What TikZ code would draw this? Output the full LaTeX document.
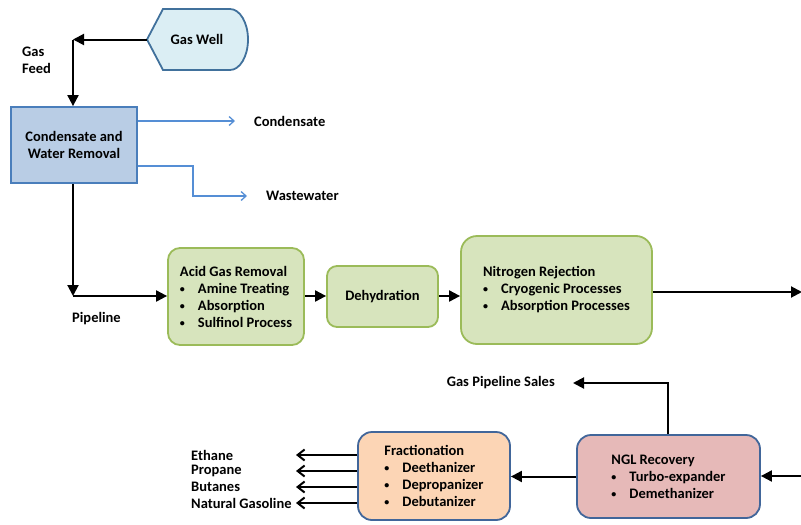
\documentclass[tikz,border=0pt]{standalone}
\usepackage{fontspec}
\setmainfont{Carlito}
\usetikzlibrary{arrows.meta}
\definecolor{wellfill}{HTML}{DBEEF4}
\definecolor{wellline}{HTML}{41719C}
\definecolor{condfill}{HTML}{B9CDE5}
\definecolor{condline}{HTML}{4A7EBB}
\definecolor{greenfill}{HTML}{D7E4BD}
\definecolor{greenline}{HTML}{9BBB59}
\definecolor{pinkfill}{HTML}{E6B9B8}
\definecolor{orangefill}{HTML}{FCD5B5}
\definecolor{darkline}{HTML}{41669A}
\definecolor{bluearrow}{HTML}{558ED5}
\newcommand\bul[1]{\makebox[18pt][l]{\hspace{0pt}\raisebox{1pt}{\fontsize{10}{10}\selectfont\textbullet}}#1}
\tikzset{
  txt/.style={font=\bfseries\fontsize{14.5}{17}\selectfont, inner sep=0pt},
  box/.style={txt, align=left, rounded corners=12pt, line width=1.8pt},
  greenbox/.style={box, draw=greenline, fill=greenfill},
  blk/.style={line width=2pt, -{Triangle[length=11pt,width=11pt]}},
  bluearr/.style={line width=1.3pt, draw=bluearrow, -{Straight Barb[length=5pt,width=9pt]}},
  outarr/.style={line width=2pt, -{Straight Barb[length=7pt,width=11pt]}},
}
\begin{document}
\begin{tikzpicture}[x=1pt,y=-1pt]
\useasboundingbox (0,0) rectangle (801,525);
% Gas well
\draw[line width=1.8pt, draw=wellline, fill=wellfill]
  (163,9) -- (230,9) arc[start angle=-90, end angle=90, x radius=18, y radius=30.5]
  -- (163,70) -- (147,39.5) -- cycle;
\node[txt] (well) at (197,39) {Gas Well};
\coordinate (wellL) at (147,39.5);
% Condensate box
\node[txt, align=center, draw=condline, fill=condfill, line width=1.8pt,
      minimum width=126pt, minimum height=76pt] (cond) at (74,145)
      {Condensate and\\Water Removal};
\coordinate (cA) at (73,39.5);
\coordinate (cB) at (73,296);
\node[txt, align=left, anchor=west] (gasfeed) at (22,60) {Gas\\Feed};
\node[txt, anchor=west] (pipe) at (72,319) {Pipeline};
\node[txt, anchor=west] (lcond) at (254,121) {Condensate};
\node[txt, anchor=west] (lwaste) at (266,196) {Wastewater};
% Green boxes
\node[greenbox, minimum width=136pt, minimum height=97pt] (acid) at (236,296.5)
  {Acid Gas Removal\\\bul{Amine Treating}\\\bul{Absorption}\\\bul{Sulfinol Process}};
\node[greenbox, minimum width=111pt, minimum height=61pt, rounded corners=10pt] (dehyd) at (382.5,296.5)
  {Dehydration};
\node[greenbox, minimum width=191pt, minimum height=108pt, rounded corners=16pt] (nitro) at (556.5,290)
  {Nitrogen Rejection\\\bul{Cryogenic Processes}\\\bul{Absorption Processes}};
\coordinate (outR) at (801,292);
% NGL and Fractionation
\node[box, draw=darkline, fill=pinkfill, minimum width=183pt, minimum height=83pt, rounded corners=14pt] (ngl) at (668.5,476.5)
  {NGL Recovery\\\bul{Turbo-expander}\\\bul{Demethanizer}};
\node[box, draw=darkline, fill=orangefill, minimum width=152pt, minimum height=88pt, rounded corners=14pt] (frac) at (434,476)
  {Fractionation\\\bul{Deethanizer}\\\bul{Depropanizer}\\\bul{Debutanizer}};
\coordinate (inR) at (801,476);
\coordinate (cS) at (668,383);
\coordinate (fx) at (296,476);
\node[txt, anchor=east] (sales) at (555,383) {Gas Pipeline Sales};
\node[txt, anchor=west] (eth) at (191,455) {Ethane};
\node[txt, anchor=west] (pro) at (191,471) {Propane};
\node[txt, anchor=west] (but) at (191,487) {Butanes};
\node[txt, anchor=west] (nat) at (191,503) {Natural Gasoline};
% Connectors
\draw[blk] (wellL) -- (cA);
\draw[blk] (cA) -- (cond.north -| cA);
\draw[blk] (cond.south -| cB) -- (cB);
\draw[blk] (cB) -- (cB -| acid.west);
\draw[blk] (acid.east |- cB) -- (dehyd.west |- cB);
\draw[blk] (dehyd.east |- cB) -- (nitro.west |- cB);
\draw[blk, shorten >=-1pt] (nitro.east |- outR) -- (outR);
\draw[bluearr, shorten >=19pt] (cond.east |- lcond) -- (lcond.west);
\draw[bluearr, shorten >=19pt] ([yshift=-21pt]cond.east) -| (193,196) -- (lwaste.west);
\draw[blk] (inR) -- (ngl.east |- inR);
\draw[blk] (ngl.west) -- (frac.east |- ngl.west);
\draw[blk, shorten >=18pt] (ngl.north -| cS) -- (cS) -- (sales.east);
\draw[outarr] (frac.west |- eth) -- (fx |- eth);
\draw[outarr] (frac.west |- pro) -- (fx |- pro);
\draw[outarr] (frac.west |- but) -- (fx |- but);
\draw[outarr] (frac.west |- nat) -- (fx |- nat);
\end{tikzpicture}
\end{document}
